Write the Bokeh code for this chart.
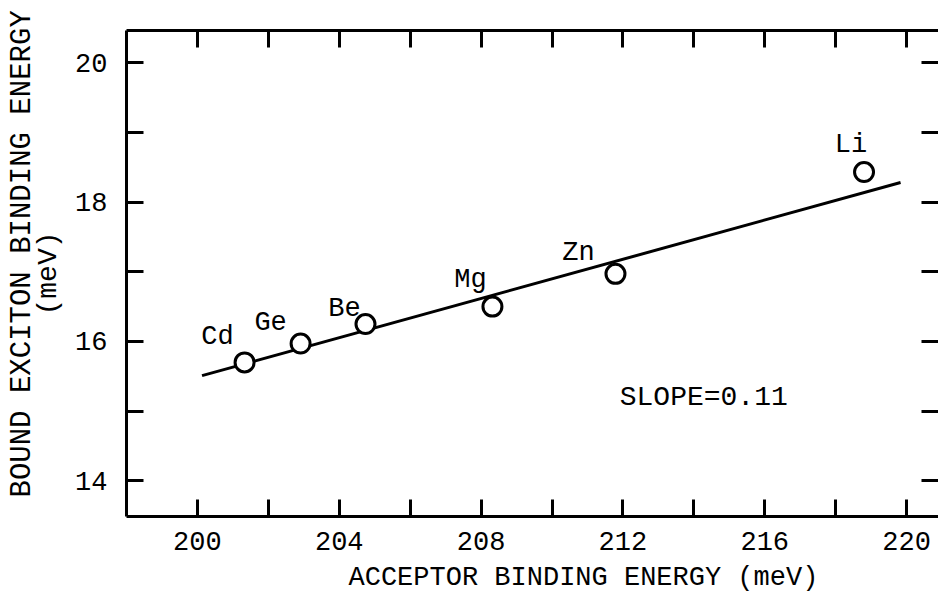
from bokeh.plotting import figure
from bokeh.models import LinearAxis, FixedTicker, ColumnDataSource, LabelSet, Label, Range1d, Title
from bokeh.core.properties import value
from bokeh.embed import file_html
from bokeh.resources import INLINE

# ---- data ----
elements = ["Cd", "Ge", "Be", "Mg", "Zn", "Li"]
acceptor_energy = [201.33, 202.91, 204.74, 208.32, 211.79, 218.80]
exciton_energy = [15.70, 15.97, 16.25, 16.50, 16.97, 18.43]
fit_x = [200.13, 219.83]
fit_y = [15.51, 18.28]
x_major = [200, 204, 208, 212, 216, 220]
x_minor = [202, 206, 210, 214, 218]
y_major = [14, 16, 18, 20]
y_minor = [15, 17, 19]
slope_text = "SLOPE=0.11"
x_title = "ACCEPTOR BINDING ENERGY (meV)"
y_title = "BOUND EXCITON BINDING ENERGY"
y_unit = "(meV)"

# label offsets (pixels) relative to each point
label_dx = [-27, -30, -21, -22, -37, -13]
label_dy = [25, 21, 15, 27, 21, 27]

FONT = "Liberation Mono"
FS = "27px"

X0, X1 = 198, 220.9
Y0, Y1 = 13.49, 20.46

p = figure(frame_width=812, frame_height=486,
           x_range=Range1d(X0, X1), y_range=Range1d(Y0, Y1),
           output_backend="svg", toolbar_location=None,
           min_border_left=126, min_border_top=30, min_border_right=0, min_border_bottom=0,
           background_fill_color="white", border_fill_color="white")
p.outline_line_color = None
p.grid.visible = False


def style_axis(ax, labels=True):
    ax.axis_line_width = 3
    ax.axis_line_color = "black"
    ax.major_tick_line_width = 3
    ax.minor_tick_line_width = 3
    ax.major_tick_in = 17
    ax.major_tick_out = 0
    ax.minor_tick_in = 17
    ax.minor_tick_out = 0
    ax.major_label_text_font = FONT
    if labels:
        ax.major_label_text_font_size = FS
        ax.major_label_text_color = "black"
    else:
        ax.major_label_text_font_size = "0px"
        ax.major_label_text_color = None
        ax.major_label_standoff = 0


p.xaxis.ticker = FixedTicker(ticks=x_major, minor_ticks=x_minor)
p.yaxis.ticker = FixedTicker(ticks=y_major, minor_ticks=y_minor)
for ax in p.xaxis:
    style_axis(ax)
    ax.major_label_standoff = 15
for ax in p.yaxis:
    style_axis(ax)
    ax.major_label_standoff = 19

top = LinearAxis(ticker=FixedTicker(ticks=x_major, minor_ticks=x_minor))
style_axis(top, labels=False)
p.add_layout(top, "above")

right = LinearAxis(ticker=FixedTicker(ticks=y_major, minor_ticks=y_minor))
style_axis(right, labels=False)
right.axis_line_alpha = 0
p.add_layout(right, "right")

# x-axis title, shifted right as in the reference
p.add_layout(Title(text=x_title, align="left", offset=222, standoff=17,
                   text_font=FONT, text_font_size=FS, text_font_style="normal",
                   text_color="black"), "below")

# y-axis titles (two lines)
p.add_layout(Title(text=y_unit, align="center", offset=0, standoff=17,
                   text_font=FONT, text_font_size="28px", text_font_style="normal",
                   text_color="black"), "left")
p.add_layout(Title(text=y_title, align="left", offset=19, standoff=-33,
                   text_font=FONT, text_font_size="29px", text_font_style="normal",
                   text_color="black"), "left")

p.line(fit_x, fit_y, line_color="black", line_width=3)

src = ColumnDataSource(dict(x=acceptor_energy, y=exciton_energy, name=elements,
                            dx=label_dx, dy=label_dy))
p.scatter("x", "y", source=src, size=19, fill_color="white",
          line_color="black", line_width=3)

labels = LabelSet(x="x", y="y", text="name", x_offset="dx", y_offset="dy",
                  source=src, text_font=value(FONT), text_font_size=value(FS),
                  text_align="center", text_baseline="middle", text_color="black")
p.add_layout(labels)

p.add_layout(Label(x=214.28, y=15.19, text=slope_text, text_font=FONT,
                   text_font_size="28px", text_align="center", text_baseline="middle",
                   text_color="black"))

open("out.html", "w").write(file_html(p, INLINE))
